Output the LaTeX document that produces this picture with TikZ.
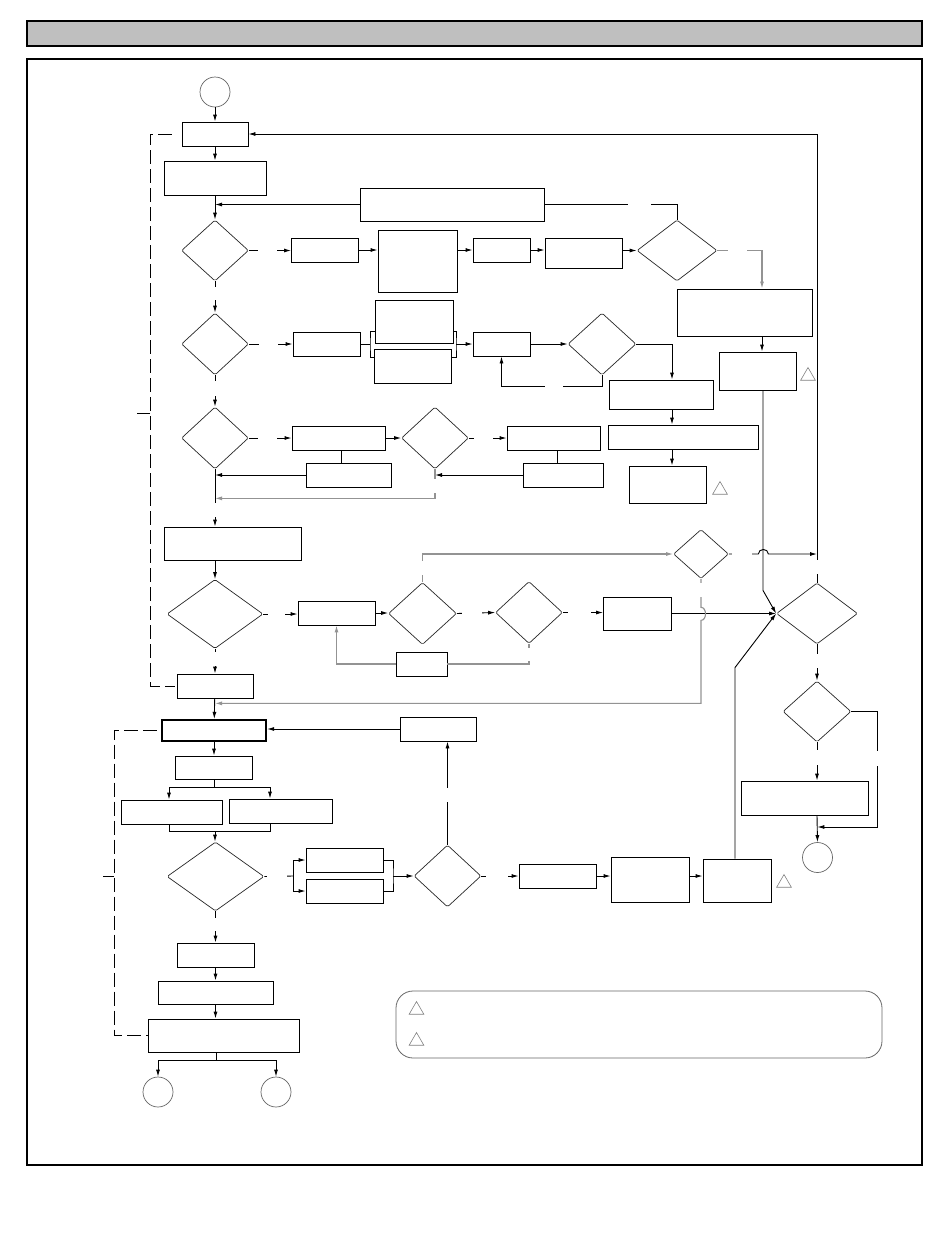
\documentclass[tikz,border=0pt]{standalone}
\usetikzlibrary{arrows.meta,shapes.geometric}

\tikzset{
  sz/.style 2 args={minimum width=#1pt,minimum height=#2pt},
  wire/.style={draw,line width=0.9pt},
  flow/.style={wire,-{Latex[length=7pt,width=4pt]}},
  grayflow/.style={flow,draw=gray!85,line width=1.1pt},
  grayline/.style={wire,draw=gray!85,line width=1.1pt},
  hgap/.style={fill=white,inner sep=0pt,minimum height=4pt,minimum width=#1pt},
  vgap/.style={fill=white,inner sep=0pt,minimum width=4pt,minimum height=#1pt},
  bracket/.style={draw,line width=0.9pt,dash pattern=on 14pt off 5pt},
  warn/.style={draw=gray,regular polygon,regular polygon sides=3,minimum size=17pt,inner sep=0pt,line width=0.6pt}
}

\begin{document}
\begin{tikzpicture}[x=1pt,y=-1pt]
    \useasboundingbox (0,0) rectangle (950,1254);
    \draw[line width=1.8pt,fill=gray!50] (27,21) rectangle (922,46);
    \draw[line width=1.8pt] (27,59) rectangle (922,1165);

    \begin{scope}[every node/.style={draw,rectangle,line width=0.9pt,inner sep=0pt}]
        \node[sz={66}{24}] (B1) at (215,134) {};
        \node[sz={102}{34}] (B2) at (215,178) {};
        \node[sz={184}{33}] (B3) at (452,204.5) {};
        \node[sz={67}{24}] (B4) at (325,250) {};
        \node[sz={79}{62}] (B5) at (417.5,261) {};
        \node[sz={57}{24}] (B6) at (501.5,250) {};
        \node[sz={77}{30}] (B7) at (583.5,253) {};
        \node[sz={135}{47}] (B8) at (744.5,312.5) {};
        \node[sz={77}{38}] (B9) at (757.5,371) {};
        \node[sz={67}{24}] (B10) at (326.5,344) {};
        \node[sz={78}{43}] (B11) at (414,321.5) {};
        \node[sz={77}{34}] (B12) at (412.5,366) {};
        \node[sz={57}{24}] (B13) at (501.5,344) {};
        \node[sz={104}{29}] (B14) at (661,394.5) {};
        \node[sz={150}{24}] (B15) at (683,437) {};
        \node[sz={77}{37}] (B16) at (667.5,484.5) {};
        \node[sz={93}{24}] (B17) at (338.5,438) {};
        \node[sz={85}{24}] (B18) at (348.5,475) {};
        \node[sz={93}{24}] (B19) at (553.5,438.5) {};
        \node[sz={80}{24}] (B20) at (563,475) {};
        \node[sz={137}{33}] (B21) at (232.5,543.5) {};
        \node[sz={77}{24}] (B22) at (336.5,613) {};
        \node[sz={51}{24}] (B23) at (421.5,664) {};
        \node[sz={68}{33}] (B24) at (637.5,613.5) {};
        \node[sz={76}{24}] (B25) at (215,686) {};
        \node[sz={104}{21},line width=2.2pt] (B26) at (214,730.5) {};
        \node[sz={76}{24}] (B27) at (438,729) {};
        \node[sz={77}{23}] (B28) at (213.5,767.5) {};
        \node[sz={101}{24}] (B29) at (171.5,812) {};
        \node[sz={103}{24}] (B30) at (280.5,811) {};
        \node[sz={77}{24}] (B31) at (344.5,860) {};
        \node[sz={77}{24}] (B32) at (344.5,891) {};
        \node[sz={77}{24}] (B33) at (215.5,955) {};
        \node[sz={115}{23}] (B34) at (215.5,992.5) {};
        \node[sz={151}{33}] (B35) at (223.5,1035.5) {};
        \node[sz={77}{24}] (B36) at (557.5,876) {};
        \node[sz={78}{45}] (B37) at (650,879.5) {};
        \node[sz={68}{43}] (B38) at (737,880.5) {};
        \node[sz={127}{34}] (B39) at (804.5,798) {};
    \end{scope}

    \begin{scope}[every node/.style={diamond,draw=black!85,line width=0.7pt,inner sep=0pt,rounded corners=1.5pt}]
        \node[sz={67}{61}] (D1) at (215,250.5) {};
        \node[sz={80}{61}] (D2) at (677,250.5) {};
        \node[sz={67}{62}] (D3) at (215,344) {};
        \node[sz={68}{62}] (D4) at (602,344) {};
        \node[sz={67}{62}] (D5) at (215,438) {};
        \node[sz={67}{62}] (D6) at (435,438) {};
        \node[sz={96}{69}] (D7) at (215,614) {};
        \node[sz={68}{62}] (D8) at (422.5,613.5) {};
        \node[sz={67}{62}] (D9) at (529,612.5) {};
        \node[sz={55}{49}] (D10) at (701,554) {};
        \node[sz={81}{61}] (D11) at (817,613.5) {};
        \node[sz={68}{61}] (D12) at (817,711.5) {};
        \node[sz={97}{69}] (D13) at (215.5,876.5) {};
        \node[sz={67}{62}] (D14) at (447.5,876) {};
    \end{scope}

    \begin{scope}[every node/.style={circle,draw=gray!80!black,line width=0.7pt,minimum size=30pt,inner sep=0pt}]
        \node (C1) at (215,92) {};
        \node (C2) at (817.5,857.5) {};
        \node (C3) at (158,1092) {};
        \node (C4) at (276,1092) {};
    \end{scope}

    \node[draw=gray!80!black,line width=0.8pt,rounded corners=17pt,inner sep=0pt,sz={486}{67}] (L) at (639,1024.5) {};

    \begin{scope}[every node/.style={warn}]
        \node (W1) at (808,376) {};
        \node (W2) at (720,490) {};
        \node (W3) at (784,883) {};
        \node (W4) at (416.5,1010) {};
        \node (W5) at (416.5,1041) {};
    \end{scope}

    % first loop
    \path (C1) edge[flow] (B1);
    \path (B1) edge[flow] (B2);
    \path (B2) edge[flow] (D1);
    \draw[flow] (B3.west) -- (B3.west -| D1.north);
    \draw[wire] (B3.east) -| node[hgap=23,pos=0.36] {} (D2.north);
    \path (D1.east) edge[flow] node[hgap=19,pos=0.44] {} (D1.east -| B4.west);
    \draw[flow] (B4.east) -- (B4.east -| B5.west);
    \draw[flow] (B6.west -| B5.east) -- (B6.west);
    \draw[flow] (B6.east) -- (B6.east -| B7.west);
    \draw[flow] (D2.west -| B7.east) -- (D2.west);
    \draw[grayflow] (D2.east) -| node[hgap=19,pos=0.23] {} ([xshift=17.5]B8.north);
    \draw[flow] ([xshift=17.5]B8.south) -- ([xshift=4.5]B9.north);
    \draw[flow] ([xshift=5.5]B9.south) -- ++(0,200) -- (D11.west);

    \path (D1.south) edge[flow] node[vgap=13,pos=0.39] {} (D3.north);
    \path (D3.east) edge[flow] node[hgap=19,pos=0.44] {} (D3.east -| B10.west);
    \coordinate (K1) at (370,344);
    \coordinate (K2) at (456,344);
    \draw[wire] (B10.east) -- (K1);
    \draw[wire] ([yshift=-9.5]B11.west) -| (K1) |- ([yshift=9]B12.west);
    \draw[wire] ([yshift=-9.5]B11.east) -| (K2) |- ([yshift=9]B12.east);
    \draw[flow] (K2) -- (B13.west);
    \draw[flow] (B13.east) -- (D4.west);
    \draw[flow] (D4.south) -- ++(0,11) -| node[hgap=18,pos=0.24] {} (B13.south);
    \draw[flow] (D4.east) -| ([xshift=11]B14.north);
    \draw[flow] ([xshift=11]B14.south) -- ([xshift=-11]B15.north);
    \draw[flow] ([xshift=-11]B15.south) -- ([xshift=4.5]B16.north);

    \path (D3.south) edge[flow] node[vgap=15,pos=0.42] {} (D5.north);
    \path (D5.east) edge[flow] node[hgap=19,pos=0.44] {} (D5.east -| B17.west);
    \draw[wire] ([xshift=2.5]B17.south) -- ([xshift=-7.5]B18.north);
    \draw[flow] (B18.west) -- (B18.west -| D5.south);
    \draw[flow] (B17.east) -- (D6.west);
    \path (D6.east) edge[flow] node[hgap=19,pos=0.38] {} (D6.east -| B19.west);
    \draw[wire] ([xshift=3.5]B19.south) -- ([xshift=-6]B20.north);
    \draw[flow] (B20.west) -- (B20.west -| D6.south);
    \draw[grayflow] (D6.south) -- node[vgap=14,pos=0.59] {} ++(0,29) -- ++(-220,0);
    \path (D5.south) edge[flow] node[vgap=14,pos=0.71] {} (D5.south |- B21.north);
    \draw[flow] ([xshift=-17.5]B21.south) -- (D7.north);

    \path (D7.east) edge[flow] node[hgap=17,pos=0.39] {} (D7.east -| B22.west);
    \draw[flow] (B22.east) -- (B22.east -| D8.west);
    \draw[grayflow] (D8.north) |- node[vgap=14,pos=0.26] {} (D10.west);
    \path (D8.east) edge[flow] node[hgap=20,pos=0.4] {} (D9.west);
    \draw[grayline] (D9.south) |- node[vgap=13,pos=0.26] {} (B23.east);
    \draw[grayflow] (B23.west) -| (B22.south);
    \path (D9.east) edge[flow] node[hgap=23,pos=0.41] {} (D9.east -| B24.west);
    \draw[flow] (B24.east) -- (D11.west);
    \draw[grayflow] (D10.south) -- node[vgap=14,pos=0.4] {} ++(0,28.5)
        .. controls +(6,0) and +(6,0) .. ++(0,13) -- ++(0,83) -- ++(-486,0);
    \draw[flow] (D10.east) -- node[hgap=20,pos=0.46] {} ++(29.5,0)
        .. controls +(0,-6) and +(0,-6) .. ++(10,0) -- (D11.north |- D10.east);
    \draw[flow] (D11.north) |- node[vgap=14,pos=0.017] {} (B1.east);
    \path (D7.south) edge[flow] node[vgap=14,pos=0.4] {} (B25.north);

    % right exit
    \path (D11.south) edge[flow] node[vgap=14,pos=0.46] {} (D12.north);
    \draw[flow] (D12.south) -- node[vgap=15,pos=0.4] {} (D12.south |- B39.north);
    \draw[flow] (D12.east) -- ++(26,0) -- node[vgap=15,pos=0.407] {} ++(0,115.5) -- ++(-60,0);
    \draw[flow] ([xshift=12.5]B39.south) -- (C2.north);

    % second loop
    \path (B25) edge[flow] (B26);
    \draw[flow] (B27.west) -- (B27.west -| B26.east);
    \draw[flow] (B26.south) -- (B26.south |- B28.north);
    \coordinate (S1) at (214,787);
    \draw[wire] (B28.south -| S1) -- (S1);
    \draw[flow] (S1) -| ([xshift=-2.5]B29.north);
    \draw[flow] (S1) -| ([xshift=-10.5]B30.north);
    \coordinate (S2) at (215,831);
    \draw[wire] ([xshift=-2.5]B29.south) |- (S2) -| ([xshift=-10.5]B30.south);
    \draw[flow] (S2) -- (S2 |- D13.north);
    \coordinate (K3) at (293,876);
    \coordinate (K4) at (393,876);
    \path (D13.east) edge[wire] node[hgap=20,pos=0.45] {} (K3);
    \draw[flow] (K3) |- (B31.west);
    \draw[flow] (K3) |- (B32.west);
    \draw[wire] (B31.east) -| (K4) |- (B32.east);
    \draw[flow] (K4) -- (D14.west);
    \draw[flow] (D14.north) -- node[vgap=14,pos=0.48] {} (D14.north |- B27.south);
    \path (D14.east) edge[flow] node[hgap=22,pos=0.42] {} (B36.west);
    \draw[flow] (B36.east) -- (B36.east -| B37.west);
    \draw[flow] ([yshift=3.5]B37.east) -- ([yshift=3.5]B37.east -| B38.west);
    \draw[flow] ([xshift=-2]B38.north) -- ++(0,-191) -- (D11.west);

    \path (D13.south) edge[flow] node[vgap=13,pos=0.42] {} (D13.south |- B33.north);
    \path (B33) edge[flow] (B34);
    \draw[flow] (B34.south) -- (B34.south |- B35.north);
    \coordinate (S3) at (216,1060);
    \draw[wire] (B35.south -| S3) -- (S3);
    \draw[flow] (S3) -| (C3.north);
    \draw[flow] (S3) -| (C4.north);

    % dashed brackets
    \coordinate (K5) at (150,413);
    \draw[bracket] ([xshift=-10]B1.west) -| (K5) |- ([xshift=-2]B25.west);
    \draw[bracket] (K5) -- ++(-13,0);
    \coordinate (K6) at (114,876);
    \draw[bracket] ([xshift=-4]B26.west) -| (K6) |- (B35.west);
    \draw[bracket] (K6) -- ++(-11,0);
\end{tikzpicture}
\end{document}
